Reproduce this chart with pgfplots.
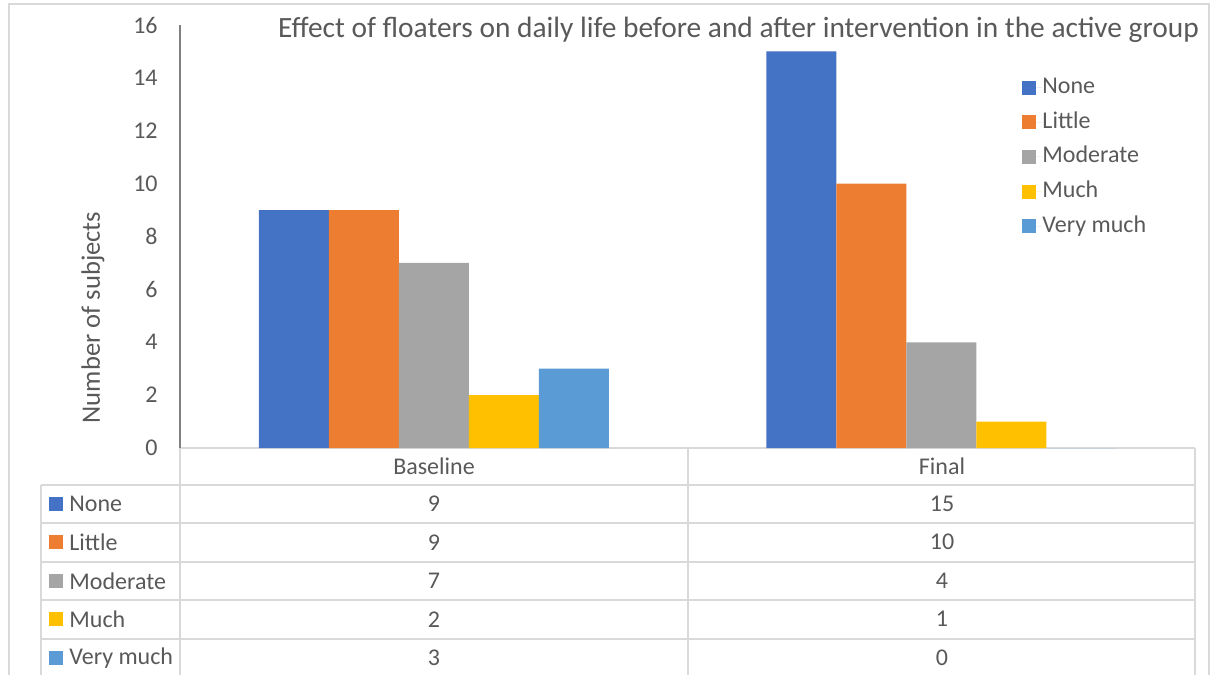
\documentclass[border=0pt]{standalone}
\usepackage{fontspec}
\setmainfont{Carlito}
\usepackage{pgfplots}
\usepackage{pgfplotstable}
\pgfplotsset{compat=1.18}
\definecolor{cNone}{HTML}{4472C4}
\definecolor{cLittle}{HTML}{ED7D31}
\definecolor{cModerate}{HTML}{A5A5A5}
\definecolor{cMuch}{HTML}{FFC000}
\definecolor{cVery}{HTML}{5B9BD5}
\definecolor{txt}{HTML}{595959}
\definecolor{gridc}{HTML}{D9D9D9}
\pgfplotstableread{
x None Little Moderate Much VeryMuch
0 9 9 7 2 3
1 15 10 4 1 0
}\datatable
\begin{document}
\fontsize{12}{14}\selectfont
\begin{tikzpicture}
\useasboundingbox (0,0) rectangle (606pt,-337.5pt);
\begin{axis}[
  at={(90pt,-224pt)}, anchor=south west,
  scale only axis, width=507.5pt, height=211.5pt,
  xmin=-0.5, xmax=1.5, ymin=0, ymax=16,
  ybar=0pt, bar width=35pt,
  axis lines*=left,
  x axis line style={draw=gridc, line width=1pt},
  y axis line style={draw=black!50, line width=0.6pt},
  xtick=\empty,
  ytick={0,2,...,16},
  major tick length=0pt,
  /pgf/number format/assume math mode=true,
  yticklabel style={font=\fontsize{12}{14}\selectfont, text=txt, inner sep=0pt, xshift=-11pt},
  legend style={at={(0.8296,0.881)}, anchor=north west, draw=none, fill=none,
    font=\fontsize{12}{14}\selectfont, text=txt, row sep=5.3pt, inner sep=0pt,
    nodes={text height=9pt, text depth=3pt, inner sep=0pt}},
  legend cell align=left,
  legend image code/.code={\fill[#1] (0pt,-3.5pt) rectangle (7pt,3.5pt); \path (0pt,0pt) -- (10pt,0pt);},
  clip=false
]
\addplot[fill=cNone, draw=none] table[x=x,y=None]{\datatable};
\addplot[fill=cLittle, draw=none] table[x=x,y=Little]{\datatable};
\addplot[fill=cModerate, draw=none] table[x=x,y=Moderate]{\datatable};
\addplot[fill=cMuch, draw=none] table[x=x,y=Much]{\datatable};
\addplot[fill=cVery, draw=none] table[x=x,y=VeryMuch]{\datatable};
\legend{None,Little,Moderate,Much,Very much}
\end{axis}
\begin{scope}[x=0.5pt,y=-0.5pt]
  \draw[gridc, line width=1pt] (9,4) rectangle (1209,720);
  % table lines
  \draw[gridc, line width=1pt] (41,484.5) -- (1195,484.5);
  \foreach \yy in {523,561.5,600,638.5,677} {\draw[gridc, line width=1pt] (41,\yy) -- (1195,\yy);}
  \draw[gridc, line width=1pt] (41,484.5) -- (41,720);
  \draw[gridc, line width=1pt] (180,448) -- (180,720);
  \draw[gridc, line width=1pt] (688,448) -- (688,720);
  \draw[gridc, line width=1pt] (1195,448) -- (1195,720);
  \begin{scope}[every node/.style={font=\fontsize{12}{14}\selectfont, text=txt, inner sep=0pt}]
  \node[font=\fontsize{14.7}{17}\selectfont] at (738.5,30) {Effect of floaters on daily life before and after intervention in the active group};
  \node[rotate=90, font=\fontsize{13.3}{16}\selectfont] at (93,317.5) {Number of subjects};
  \node at (434,466) {Baseline};
  \node at (942,466) {Final};
  \foreach \nm/\cc/\va/\vb [count=\i] in {None/cNone/9/15, Little/cLittle/9/10, Moderate/cModerate/7/4, Much/cMuch/2/1, Very much/cVery/3/0} {
    \pgfmathsetmacro{\yc}{503.75+38.5*(\i-1)}
    \fill[\cc] (49,\yc-7) rectangle (63,\yc+7);
    \node[anchor=west] at (69,\yc) {\nm};
    \node at (434,\yc) {\va};
    \node at (942,\yc) {\vb};
  }
  \end{scope}
\end{scope}
\end{tikzpicture}
\end{document}
